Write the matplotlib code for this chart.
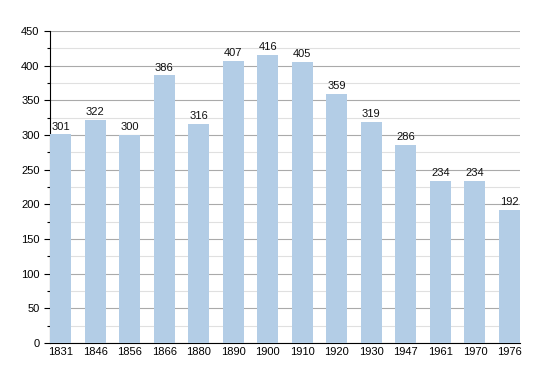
import matplotlib
matplotlib.use("Agg")
import matplotlib.pyplot as plt
from matplotlib.ticker import MultipleLocator

years = ["1831", "1846", "1856", "1866", "1880", "1890", "1900", "1910", "1920", "1930", "1947", "1961", "1970", "1976"]
population = [301, 322, 300, 386, 316, 407, 416, 405, 359, 319, 286, 234, 234, 192]

plt.rcParams["font.family"] = ["Liberation Sans", "DejaVu Sans"]

fig = plt.figure(figsize=(5.5, 3.73), dpi=100)
ax = fig.add_axes([0.0909, 0.0804, 0.8545, 0.8365])

w = 0.61
x = list(range(len(years)))
ax.bar(x, population, width=w, align="edge", color="#b3cde6", zorder=3)
for xi, v in zip(x, population):
    ax.text(xi + w / 2, v + 4, str(v), ha="center", va="bottom", fontsize=8, color="#111111", zorder=4)

ax.set_xlim(0, len(years) - 1 + w)
ax.set_ylim(0, 450)
ax.set_xticks([xi + w / 2 for xi in x])
ax.set_xticklabels(years, fontsize=8)
ax.yaxis.set_major_locator(MultipleLocator(50))
ax.yaxis.set_minor_locator(MultipleLocator(25))
ax.tick_params(axis="y", labelsize=8, length=4, width=0.8)
ax.tick_params(axis="y", which="minor", length=2.5, width=0.8)
ax.tick_params(axis="x", length=0, pad=3)
ax.grid(axis="y", which="major", color="#aaaaaa", linewidth=0.8, zorder=0)
ax.grid(axis="y", which="minor", color="#e0e0e0", linewidth=0.8, zorder=0)
for s in ["top", "right"]:
    ax.spines[s].set_visible(False)
ax.spines["left"].set_color("black")
ax.spines["bottom"].set_color("black")

fig.savefig("out.png", dpi=100)
